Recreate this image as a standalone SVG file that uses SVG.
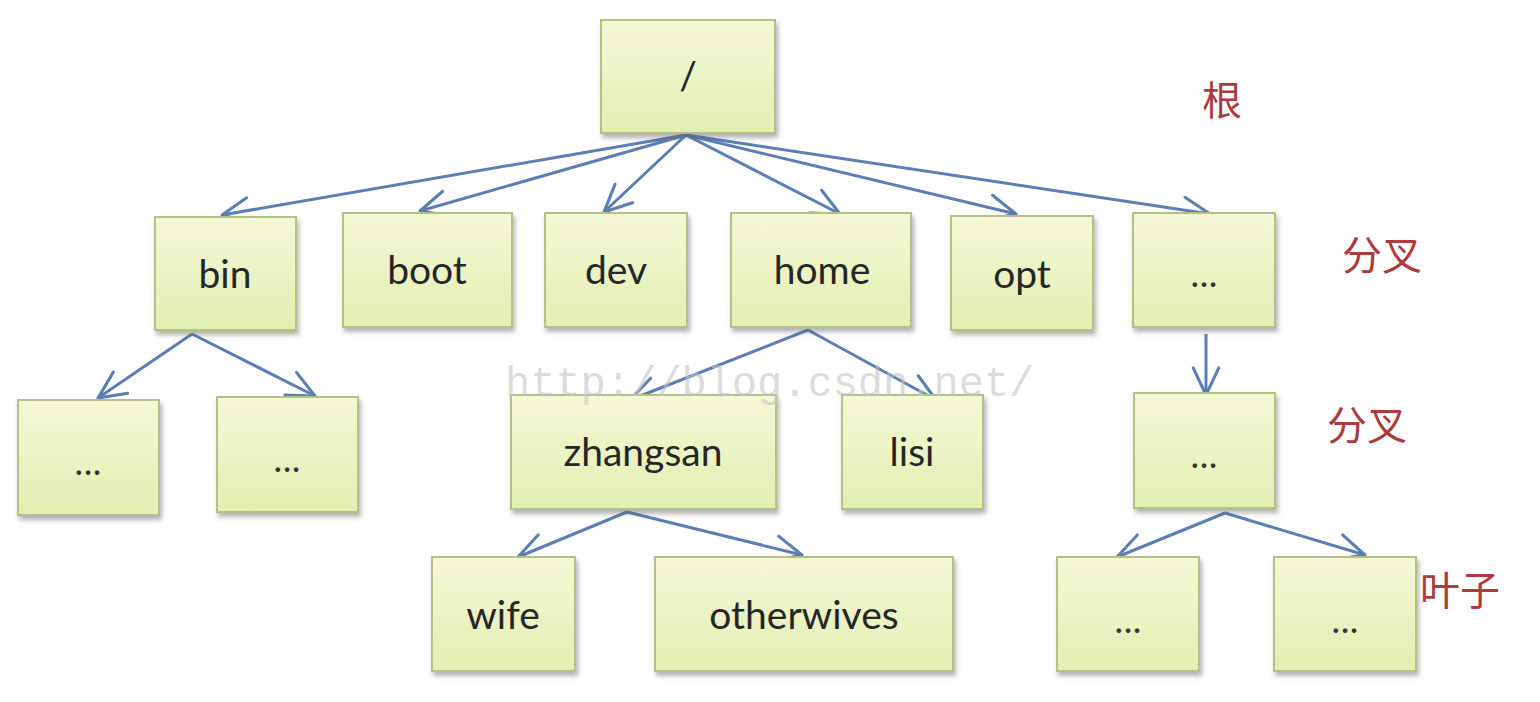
<svg xmlns="http://www.w3.org/2000/svg" width="1540" height="702" viewBox="0 0 1540 702">
<defs>
<linearGradient id="g" x1="0" y1="0" x2="0" y2="1">
<stop offset="0" stop-color="#f4f8d6"/>
<stop offset="1" stop-color="#e3eeb2"/>
</linearGradient>
<filter id="sh" x="-10%" y="-10%" width="125%" height="130%">
<feDropShadow dx="2" dy="4" stdDeviation="2.5" flood-color="#555" flood-opacity="0.45"/>
</filter>
<marker id="ah" viewBox="0 0 20 20" markerUnits="userSpaceOnUse" markerWidth="34" markerHeight="34" refX="18" refY="10" orient="auto">
<path d="M2,2.5 L18,10 L2,17.5" fill="none" stroke="#5b7fb4" stroke-width="1.8" stroke-linecap="round" stroke-linejoin="round"/>
</marker>
</defs>
<style>
.box{fill:url(#g);stroke:#b4c085;stroke-width:2;filter:url(#sh)}
.t{font-family:Lato,"Open Sans","Liberation Sans",sans-serif;font-size:39px;fill:#262626;text-anchor:middle}
.d{font-family:Lato,"Open Sans","Liberation Sans",sans-serif;font-size:30px;font-weight:bold;fill:#333;text-anchor:middle;letter-spacing:2px}
.c{font-family:"Noto Sans CJK SC",sans-serif;font-size:40px;fill:#ad3a3c}
.e{fill:none;stroke:#5b7fb4;stroke-width:3;marker-end:url(#ah)}
.w{font-family:"Liberation Mono",monospace;font-size:42px;fill:#c4c4c4;fill-opacity:0.6}
</style>
<rect width="1540" height="702" fill="#ffffff"/>
<g id="connectors">
<line class="e" x1="686" y1="135" x2="222" y2="215"/>
<line class="e" x1="686" y1="135" x2="420" y2="211"/>
<line class="e" x1="686" y1="135" x2="604" y2="212"/>
<line class="e" x1="686" y1="135" x2="840" y2="214"/>
<line class="e" x1="686" y1="135" x2="1016" y2="214"/>
<line class="e" x1="686" y1="135" x2="1210" y2="214"/>
<line class="e" x1="192" y1="334" x2="98" y2="398"/>
<line class="e" x1="192" y1="334" x2="315" y2="396"/>
<line class="e" x1="808" y1="330" x2="630" y2="400"/>
<line class="e" x1="808" y1="330" x2="936" y2="400"/>
<line class="e" x1="1206" y1="334" x2="1206" y2="395"/>
<line class="e" x1="627" y1="512" x2="518" y2="557"/>
<line class="e" x1="627" y1="512" x2="802" y2="555"/>
<line class="e" x1="1225" y1="513" x2="1117" y2="557"/>
<line class="e" x1="1225" y1="513" x2="1365" y2="555"/>
</g>
<g id="n-root"><rect class="box" x="601" y="20" width="174" height="113"/><text class="t" x="688" y="90">/</text></g>
<g id="n-bin"><rect class="box" x="155" y="217" width="141" height="113"/><text class="t" x="225" y="288">bin</text></g>
<g id="n-boot"><rect class="box" x="343" y="213" width="169" height="114"/><text class="t" x="427" y="284">boot</text></g>
<g id="n-dev"><rect class="box" x="545" y="213" width="142" height="114"/><text class="t" x="616" y="284">dev</text></g>
<g id="n-home"><rect class="box" x="731" y="213" width="180" height="114"/><text class="t" x="822" y="284">home</text></g>
<g id="n-opt"><rect class="box" x="951" y="216" width="142" height="114"/><text class="t" x="1022" y="288">opt</text></g>
<g id="n-more1"><rect class="box" x="1133" y="213" width="142" height="114"/><text class="d" x="1205" y="287">...</text></g>
<g id="n-bin1"><rect class="box" x="18" y="400" width="141" height="115"/><text class="d" x="89" y="475">...</text></g>
<g id="n-bin2"><rect class="box" x="217" y="397" width="141" height="115"/><text class="d" x="288" y="472">...</text></g>
<g id="n-zhangsan"><rect class="box" x="511" y="395" width="265" height="114"/><text class="t" x="643" y="466">zhangsan</text></g>
<g id="n-lisi"><rect class="box" x="842" y="395" width="141" height="114"/><text class="t" x="912" y="466">lisi</text></g>
<g id="n-more2"><rect class="box" x="1134" y="393" width="141" height="115"/><text class="d" x="1205" y="468">...</text></g>
<g id="n-wife"><rect class="box" x="432" y="557" width="143" height="114"/><text class="t" x="503" y="629">wife</text></g>
<g id="n-otherwives"><rect class="box" x="655" y="557" width="298" height="114"/><text class="t" x="804" y="629">otherwives</text></g>
<g id="n-leaf1"><rect class="box" x="1057" y="557" width="142" height="114"/><text class="d" x="1129" y="633">...</text></g>
<g id="n-leaf2"><rect class="box" x="1274" y="557" width="142" height="114"/><text class="d" x="1346" y="633">...</text></g>
<g id="labels">
<text class="c" x="1202" y="115">根</text>
<text class="c" x="1342" y="270">分叉</text>
<text class="c" x="1327" y="440">分叉</text>
<text class="c" x="1420" y="605">叶子</text>
</g>
<text class="w" x="505" y="396">http://blog.csdn.net/</text>
</svg>
